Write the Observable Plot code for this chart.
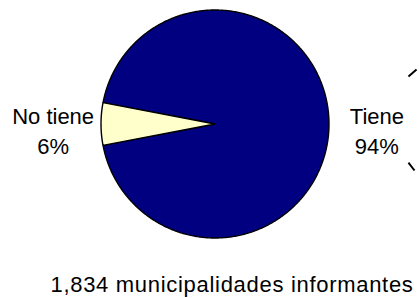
<!DOCTYPE html>
<html><head><meta charset="utf-8">
<script src="https://cdn.jsdelivr.net/npm/d3@7"></script>
<script src="https://cdn.jsdelivr.net/npm/@observablehq/plot@0.6"></script>
<style>html,body{margin:0;padding:0;background:#fff;} #chart svg{display:block;}</style>
</head><body><div id="chart"></div>
<script>
// ---- data ----
const categories = ["Tiene", "No tiene"];
const shares = [94, 6];
const sliceColors = ["#000080", "#FFFFCC"];
const caption = "1,834 municipalidades informantes";
// small stray tick strokes at the right edge (in pie-radius units)
const edgeTicksX1 = [1.697, 1.697];
const edgeTicksY1 = [0.417, -0.338];
const edgeTicksX2 = [1.768, 1.750];
const edgeTicksY2 = [0.478, -0.408];

// ---- layout ----
const W = 419, H = 298, CX = 214.5, CY = 123.5, R = 114;

const total = d3.sum(shares);
const share = c => shares[categories.indexOf(c)] / total;
const start = 1.5 * Math.PI + Math.PI * share("No tiene");
const pie = d3.pie().sort(null).value(d => d.value).startAngle(start).endAngle(start + 2 * Math.PI);
const slices = pie(categories.map((c, i) => ({label: c, value: shares[i]})));

const pts = [];
for (const s of slices) {
  pts.push({label: s.data.label, x: 0, y: 0});
  const n = Math.max(2, Math.ceil((s.endAngle - s.startAngle) / 0.01));
  for (let k = 0; k <= n; k++) {
    const a = s.startAngle + (s.endAngle - s.startAngle) * k / n;
    pts.push({label: s.data.label, x: Math.sin(a), y: Math.cos(a)});
  }
}
const labels = slices.map(s => {
  const m = (s.startAngle + s.endAngle) / 2;
  return {text: s.data.label + "\n" + s.data.value + "%", x: 1.42 * Math.sin(m), y: 1.42 * Math.cos(m)};
});
const ticks = edgeTicksX1.map((v, i) => ({x1: v, y1: edgeTicksY1[i], x2: edgeTicksX2[i], y2: edgeTicksY2[i]}));

const chart = Plot.plot({
  width: W, height: H, margin: 0,
  style: {fontFamily: "'Liberation Sans', Arial, sans-serif", background: "white", color: "black"},
  x: {axis: null, domain: [-CX / R, (W - CX) / R]},
  y: {axis: null, domain: [-(H - CY) / R, CY / R]},
  color: {domain: categories, range: sliceColors},
  marks: [
    Plot.line(pts, {x: "x", y: "y", z: "label", fill: "label", stroke: "black", strokeWidth: 1.4,
      curve: "linear-closed", strokeLinejoin: "miter"}),
    Plot.text(labels, {x: "x", y: "y", text: "text", fontSize: 22, lineHeight: 1.38, fill: "black", dy: 5}),
    Plot.link(ticks, {x1: "x1", y1: "y1", x2: "x2", y2: "y2", stroke: "black", strokeWidth: 2}),
    Plot.text([caption], {text: d => d, frameAnchor: "bottom", lineAnchor: "bottom", fontSize: 22, dx: 22, dy: -7, fill: "black"})
  ]
});
const textGroups = chart.querySelectorAll("g[aria-label='text']");
if (textGroups.length) {
  const cap = textGroups[textGroups.length - 1];
  cap.style.letterSpacing = "0.7px";
}
document.getElementById("chart").appendChild(chart);
</script>
</body></html>
